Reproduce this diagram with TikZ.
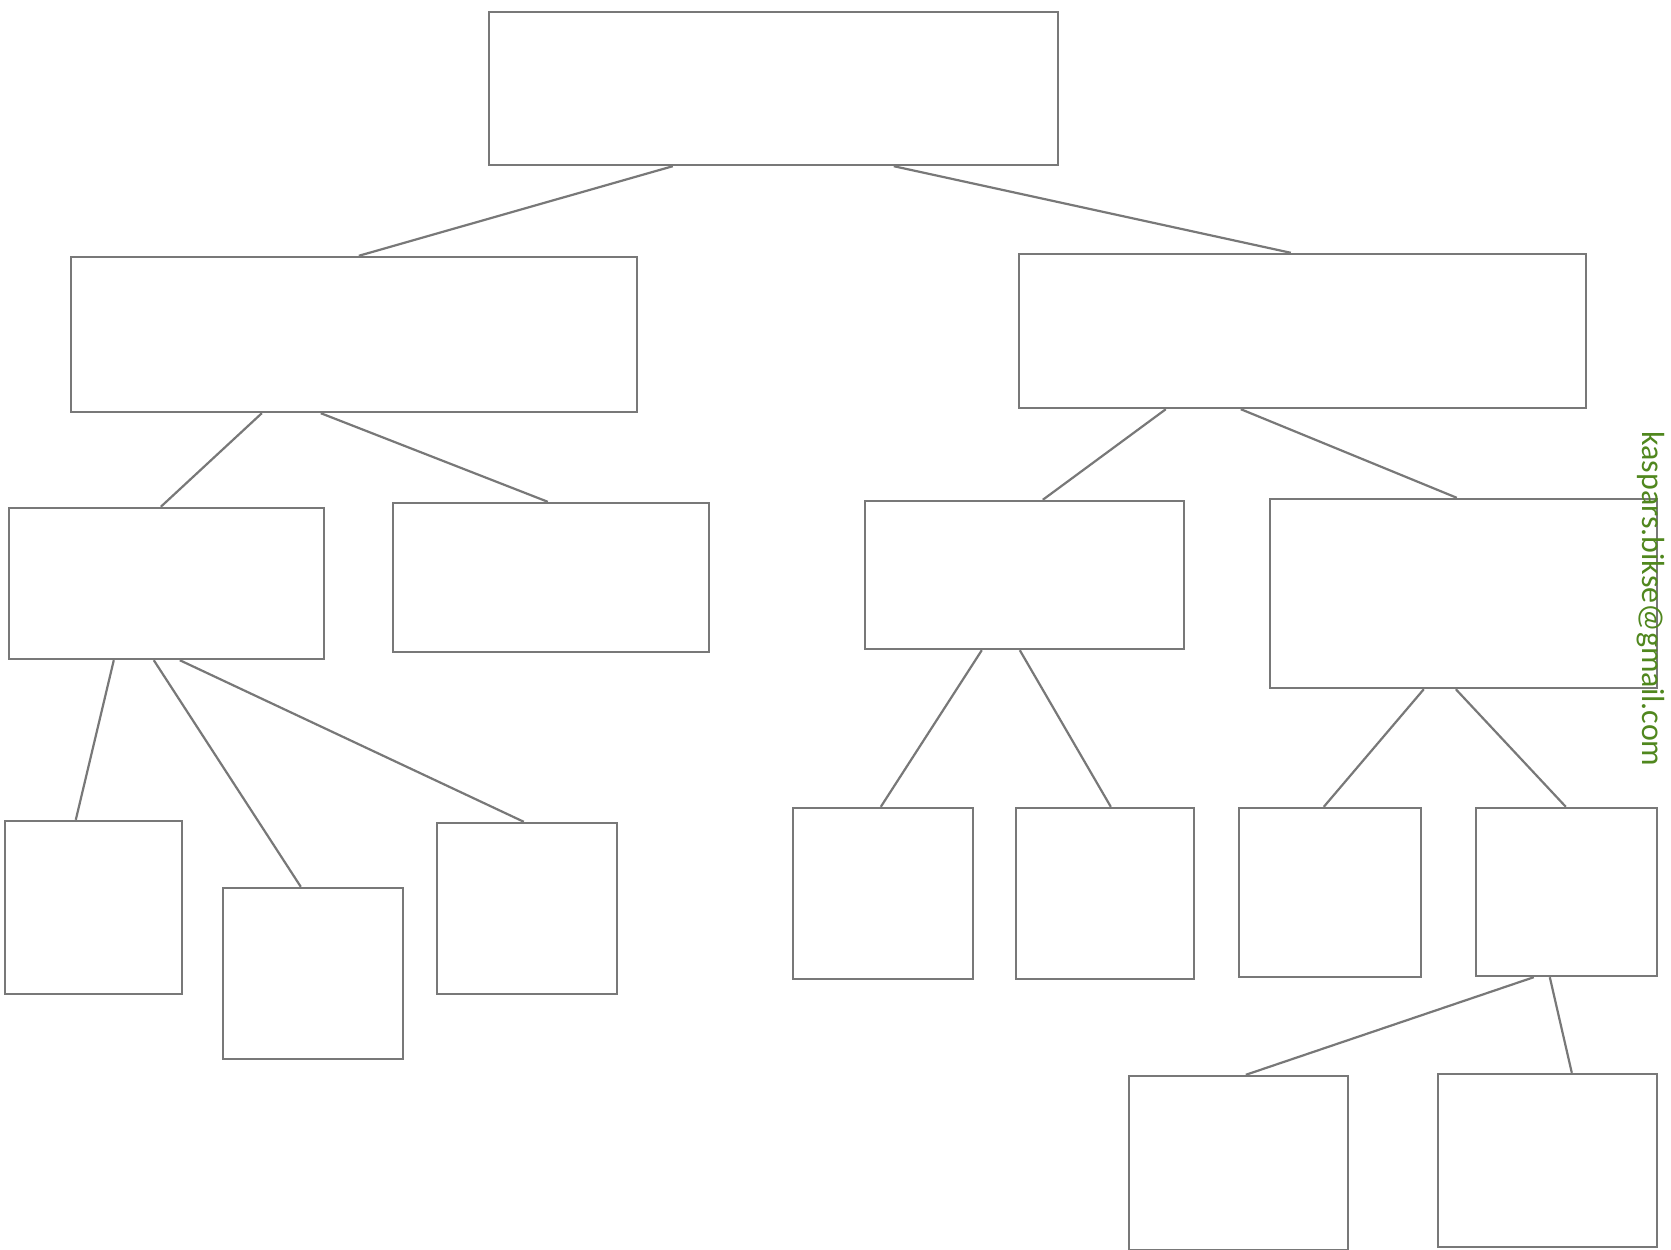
\documentclass[tikz,border=0pt]{standalone}
\usepackage{fontspec}
\newfontfamily\wmfont{Carlito}
\definecolor{linegray}{RGB}{120,120,120}
\definecolor{wmgreen}{RGB}{80,135,30}
\tikzset{
  box/.style={draw=linegray, line width=2.4pt, inner sep=0pt, fill=white},
  conn/.style={draw=linegray, line width=2.2pt},
  wm/.style={text=wmgreen, font=\wmfont\fontsize{32}{32}\selectfont, rotate=-90, inner sep=0pt}
}
\newcommand{\mkbox}[5]{%
  \node[box, minimum width={(#4-#2)*1pt}, minimum height={(#5-#3)*1pt}] (#1) at ({(#2+#4)/2},{(#3+#5)/2}) {};}
\begin{document}
\begin{tikzpicture}[x=1pt,y=-1pt]
\useasboundingbox (0,0) rectangle (1671,1250);
% boxes
\mkbox{top}{489}{12}{1058}{165}
\mkbox{ll}{71}{257}{637}{412}
\mkbox{lr}{1019}{254}{1586}{408}
\mkbox{A}{9}{508}{324}{659}
\mkbox{B}{393}{503}{709}{652}
\mkbox{C}{865}{501}{1184}{649}
\mkbox{D}{1270}{499}{1657}{688}
\mkbox{aa}{5}{821}{182}{994}
\mkbox{ab}{223}{888}{403}{1059}
\mkbox{ac}{437}{823}{617}{994}
\mkbox{ca}{793}{808}{973}{979}
\mkbox{cb}{1016}{808}{1194}{979}
\mkbox{da}{1239}{808}{1421}{977}
\mkbox{db}{1476}{808}{1657}{976}
\mkbox{ea}{1129}{1076}{1348}{1250}
\mkbox{eb}{1438}{1074}{1657}{1247}
% connectors
\draw[conn] ([xshift=185pt]top.south west) -- ([xshift=289pt]ll.north west);
\draw[conn] ([xshift=406pt]top.south west) -- ([xshift=273pt]lr.north west);
\draw[conn] ([xshift=192pt]ll.south west) -- ([xshift=153pt]A.north west);
\draw[conn] ([xshift=251pt]ll.south west) -- ([xshift=156pt]B.north west);
\draw[conn] ([xshift=148pt]lr.south west) -- ([xshift=179pt]C.north west);
\draw[conn] ([xshift=223pt]lr.south west) -- ([xshift=188pt]D.north west);
\draw[conn] ([xshift=106pt]A.south west) -- ([xshift=72pt]aa.north west);
\draw[conn] ([xshift=146pt]A.south west) -- ([xshift=79pt]ab.north west);
\draw[conn] ([xshift=172pt]A.south west) -- ([xshift=88pt]ac.north west);
\draw[conn] ([xshift=118pt]C.south west) -- ([xshift=89pt]ca.north west);
\draw[conn] ([xshift=156pt]C.south west) -- ([xshift=96pt]cb.north west);
\draw[conn] ([xshift=155pt]D.south west) -- ([xshift=86pt]da.north west);
\draw[conn] ([xshift=187pt]D.south west) -- ([xshift=91pt]db.north west);
\draw[conn] ([xshift=59pt]db.south west) -- ([xshift=118pt]ea.north west);
\draw[conn] ([xshift=75pt]db.south west) -- ([xshift=135pt]eb.north west);
% watermark
\node[wm] (mark) at (1651,599) {kaspars.bikse@gmail.com};
\end{tikzpicture}
\end{document}
